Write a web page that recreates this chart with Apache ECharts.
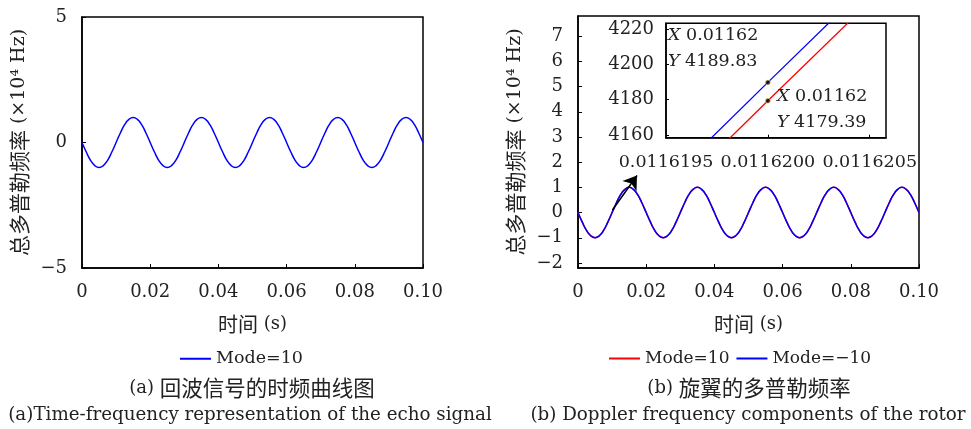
<!DOCTYPE html>
<html><head><meta charset="utf-8">
<script src="https://cdn.jsdelivr.net/npm/echarts@6/dist/echarts.min.js"></script>
<style>html,body{margin:0;padding:0;background:#fff}#c{width:971px;height:429px}</style>
</head><body><div id="c"></div>
<script>
// ---- data ----
const times = [
0,0.00125,0.0025,0.00375,0.005,0.00625,0.0075,0.00875,
0.01,0.01125,0.0125,0.01375,0.015,0.01625,0.0175,0.01875,
0.02,0.02125,0.0225,0.02375,0.025,0.02625,0.0275,0.02875,
0.03,0.03125,0.0325,0.03375,0.035,0.03625,0.0375,0.03875,
0.04,0.04125,0.0425,0.04375,0.045,0.04625,0.0475,0.04875,
0.05,0.05125,0.0525,0.05375,0.055,0.05625,0.0575,0.05875,
0.06,0.06125,0.0625,0.06375,0.065,0.06625,0.0675,0.06875,
0.07,0.07125,0.0725,0.07375,0.075,0.07625,0.0775,0.07875,
0.08,0.08125,0.0825,0.08375,0.085,0.08625,0.0875,0.08875,
0.09,0.09125,0.0925,0.09375,0.095,0.09625,0.0975,0.09875,
0.1];
const echoMode10 = [
0,-0.38,-0.71,-0.92,-1,-0.92,-0.71,-0.38,0,0.38,0.71,0.92,1,0.92,0.71,0.38,
0,-0.38,-0.71,-0.92,-1,-0.92,-0.71,-0.38,0,0.38,0.71,0.92,1,0.92,0.71,0.38,
0,-0.38,-0.71,-0.92,-1,-0.92,-0.71,-0.38,0,0.38,0.71,0.92,1,0.92,0.71,0.38,
0,-0.38,-0.71,-0.92,-1,-0.92,-0.71,-0.38,0,0.38,0.71,0.92,1,0.92,0.71,0.38,
0,-0.38,-0.71,-0.92,-1,-0.92,-0.71,-0.38,0,0.38,0.71,0.92,1,0.92,0.71,0.38,
0];
const rotorModePos10 = [
0,-0.38,-0.71,-0.92,-1,-0.92,-0.71,-0.38,0,0.38,0.71,0.92,1,0.92,0.71,0.38,
0,-0.38,-0.71,-0.92,-1,-0.92,-0.71,-0.38,0,0.38,0.71,0.92,1,0.92,0.71,0.38,
0,-0.38,-0.71,-0.92,-1,-0.92,-0.71,-0.38,0,0.38,0.71,0.92,1,0.92,0.71,0.38,
0,-0.38,-0.71,-0.92,-1,-0.92,-0.71,-0.38,0,0.38,0.71,0.92,1,0.92,0.71,0.38,
0,-0.38,-0.71,-0.92,-1,-0.92,-0.71,-0.38,0,0.38,0.71,0.92,1,0.92,0.71,0.38,
0];
const rotorModeNeg10 = [
0,-0.38,-0.71,-0.92,-1,-0.92,-0.71,-0.38,0,0.38,0.71,0.92,1,0.92,0.71,0.38,
0,-0.38,-0.71,-0.92,-1,-0.92,-0.71,-0.38,0,0.38,0.71,0.92,1,0.92,0.71,0.38,
0,-0.38,-0.71,-0.92,-1,-0.92,-0.71,-0.38,0,0.38,0.71,0.92,1,0.92,0.71,0.38,
0,-0.38,-0.71,-0.92,-1,-0.92,-0.71,-0.38,0,0.38,0.71,0.92,1,0.92,0.71,0.38,
0,-0.38,-0.71,-0.92,-1,-0.92,-0.71,-0.38,0,0.38,0.71,0.92,1,0.92,0.71,0.38,
0];
// inset (zoomed) segments
const insetX = [0.0116196, 0.01162, 0.0116205];
const insetBlueY = [4144.5, 4189.83, 4246.0];
const insetRedY = [4134.1, 4179.39, 4235.5];
const insetPointsX = [0.01162, 0.01162];
const insetPointsY = [4189.83, 4179.39];
// arrow (from, to) in right-plot data coordinates
const arrowFrom = [0.0101, 0.1];
const arrowTo = [0.0173, 1.47];
// tick labels
const xTicks = [0, 0.02, 0.04, 0.06, 0.08, 0.1];
const yTicksLeft = [-5, 0, 5];
const yTicksRight = [-2, -1, 0, 1, 2, 3, 4, 5, 6, 7];
const insetXTicks = [0.0116195, 0.01162, 0.0116205];
const insetYTicks = [4160, 4180, 4200, 4220];

// ---- chart ----
const FONT = 'DejaVu Serif, Noto Sans CJK SC, serif';
const TXT = '#222';
const zip = (xs, ys) => xs.map((x, i) => [x, ys[i]]);
const minus = v => String(v).replace('-', '\u2212');

function xAxisMain(idx) {
  return {
    type: 'value', gridIndex: idx, min: 0, max: 0.1,
    name: '{c|时间} (s)', nameLocation: 'middle', nameGap: 46,
    nameTextStyle: { fontFamily: FONT, fontSize: 18, color: TXT,
      rich: { c: { fontFamily: 'Noto Sans CJK SC', fontSize: 20, color: TXT } } },
    axisLine: { show: true, onZero: false, lineStyle: { color: '#000', width: 1.5 } },
    axisTick: { show: true, inside: true, length: 4, customValues: xTicks, lineStyle: { color: '#000' } },
    axisLabel: { customValues: xTicks, margin: 15, fontFamily: FONT, fontSize: 18, color: TXT,
      formatter: v => v === 0 ? '0' : v.toFixed(2) },
    splitLine: { show: false }
  };
}
function yAxisMain(idx, min, max, ticks) {
  return {
    type: 'value', gridIndex: idx, min: min, max: max,
    name: '{c|总多普勒频率} (×10⁴ Hz)', nameLocation: 'middle', nameGap: 52,
    nameTextStyle: { fontFamily: FONT, fontSize: 19, color: TXT,
      rich: { c: { fontFamily: 'Noto Sans CJK SC', fontSize: 21, color: TXT } } },
    axisLine: { show: true, onZero: false, lineStyle: { color: '#000', width: 1.5 } },
    axisTick: { show: true, inside: true, length: 4, customValues: ticks, lineStyle: { color: '#000' } },
    axisLabel: { customValues: ticks, margin: 15, fontFamily: FONT, fontSize: 18, color: TXT,
      formatter: v => minus(v) },
    splitLine: { show: false }
  };
}

const richItalic = { i: { fontStyle: 'italic', fontFamily: FONT, fontSize: 17.5, fill: TXT } };
const option = {
  animation: false,
  backgroundColor: '#fff',
  grid: [
    { left: 82, top: 17, width: 341, height: 251, show: true, borderColor: '#000', borderWidth: 1.5, backgroundColor: 'transparent' },
    { left: 578, top: 16, width: 341, height: 252, show: true, borderColor: '#000', borderWidth: 1.5, backgroundColor: 'transparent' },
    { left: 666, top: 23.3, width: 220, height: 114.4, show: true, borderColor: '#000', borderWidth: 1.5, backgroundColor: '#fff', z: 10 }
  ],
  xAxis: [
    xAxisMain(0),
    xAxisMain(1),
    {
      type: 'value', gridIndex: 2, min: 0.0116195, max: 0.01162058, z: 11,
      axisLine: { show: true, onZero: false, lineStyle: { color: '#000', width: 1.5 } },
      axisTick: { show: true, inside: true, length: 3, customValues: [0.01162, 0.0116205], lineStyle: { color: '#000' } },
      axisLabel: { customValues: insetXTicks, margin: 16, fontFamily: FONT, fontSize: 17.5, color: TXT,
        formatter: v => v.toFixed(7) },
      splitLine: { show: false }
    }
  ],
  yAxis: [
    yAxisMain(0, -5, 5, yTicksLeft),
    yAxisMain(1, -2.2, 7.8, yTicksRight),
    {
      type: 'value', gridIndex: 2, min: 4158.5, max: 4223.3, z: 11,
      axisLine: { show: true, onZero: false, lineStyle: { color: '#000', width: 1.5 } },
      axisTick: { show: true, inside: true, length: 3, customValues: insetYTicks, lineStyle: { color: '#000' } },
      axisLabel: { customValues: insetYTicks, margin: 12, fontFamily: FONT, fontSize: 18, color: TXT,
        formatter: v => String(v) },
      splitLine: { show: false }
    }
  ],
  legend: [
    { left: 180, top: 350, padding: 0, itemWidth: 31, itemHeight: 2, itemGap: 10, icon: 'rect',
      textStyle: { fontFamily: FONT, fontSize: 17.5, color: TXT }, data: ['Mode=10'] },
    { left: 609, top: 350, padding: 0, itemWidth: 31, itemHeight: 2, itemGap: 7, icon: 'rect',
      textStyle: { fontFamily: FONT, fontSize: 17, color: TXT },
      formatter: n => n.replace('\u200b', ''), data: ['Mode=10\u200b', 'Mode=\u221210'] }
  ],
  series: [
    { name: 'Mode=10', type: 'line', xAxisIndex: 0, yAxisIndex: 0, data: zip(times, echoMode10),
      smooth: true, showSymbol: false, lineStyle: { color: '#0000ff', width: 1.5 }, itemStyle: { color: '#0000ff' } },
    { name: 'Mode=10\u200b', type: 'line', xAxisIndex: 1, yAxisIndex: 1, data: zip(times, rotorModePos10),
      smooth: true, showSymbol: false, lineStyle: { color: '#ff0000', width: 1.5 }, itemStyle: { color: '#ff0000' } },
    { name: 'Mode=\u221210', type: 'line', xAxisIndex: 1, yAxisIndex: 1, data: zip(times, rotorModeNeg10),
      smooth: true, showSymbol: false, lineStyle: { color: '#0000ff', width: 1.5 }, itemStyle: { color: '#0000ff' },
      markLine: {
        silent: true, symbol: ['none', 'arrow'], symbolSize: 13,
        lineStyle: { color: '#000', width: 1.5, type: 'solid' }, itemStyle: { color: '#000' },
        label: { show: false },
        data: [[{ coord: arrowFrom }, { coord: arrowTo }]]
      } },
    { type: 'line', xAxisIndex: 2, yAxisIndex: 2, data: zip(insetX, insetRedY), z: 12, clip: true,
      showSymbol: false, lineStyle: { color: '#ff0000', width: 1.3 } },
    { type: 'line', xAxisIndex: 2, yAxisIndex: 2, data: zip(insetX, insetBlueY), z: 12, clip: true,
      showSymbol: false, lineStyle: { color: '#0000ff', width: 1.3 } },
    { type: 'scatter', xAxisIndex: 2, yAxisIndex: 2, data: zip(insetPointsX, insetPointsY), z: 13,
      symbolSize: 5, itemStyle: { color: '#000', borderColor: '#ffe680', borderWidth: 0.8 } }
  ],
  graphic: [
    { type: 'text', left: 668, top: 27, z: 100, style: { text: '{i|X} 0.01162', font: '17.5px ' + FONT, fill: TXT, rich: richItalic } },
    { type: 'text', left: 668, top: 53, z: 100, style: { text: '{i|Y} 4189.83', font: '17.5px ' + FONT, fill: TXT, rich: richItalic } },
    { type: 'text', left: 777, top: 88, z: 100, style: { text: '{i|X} 0.01162', font: '17.5px ' + FONT, fill: TXT, rich: richItalic } },
    { type: 'text', left: 777, top: 114, z: 100, style: { text: '{i|Y} 4179.39', font: '17.5px ' + FONT, fill: TXT, rich: richItalic } },
    { type: 'text', x: 252, y: 388, style: { text: '(a) {c|回波信号的时频曲线图}', font: '18px ' + FONT, fill: TXT, textAlign: 'center', textVerticalAlign: 'middle',
      rich: { c: { fontFamily: 'Noto Sans CJK SC', fontSize: 21.5, fill: TXT } } } },
    { type: 'text', x: 250, y: 415, style: { text: '(a)Time-frequency representation of the echo signal', font: '18.3px ' + FONT, fill: TXT, textAlign: 'center', textVerticalAlign: 'middle' } },
    { type: 'text', x: 749, y: 388, style: { text: '(b) {c|旋翼的多普勒频率}', font: '18px ' + FONT, fill: TXT, textAlign: 'center', textVerticalAlign: 'middle',
      rich: { c: { fontFamily: 'Noto Sans CJK SC', fontSize: 21.5, fill: TXT } } } },
    { type: 'text', x: 748, y: 415, style: { text: '(b) Doppler frequency components of the rotor', font: '18.3px ' + FONT, fill: TXT, textAlign: 'center', textVerticalAlign: 'middle' } }
  ]
};
const chart = echarts.init(document.getElementById('c'), null, { renderer: 'canvas' });
chart.setOption(option);
</script>
</body></html>
